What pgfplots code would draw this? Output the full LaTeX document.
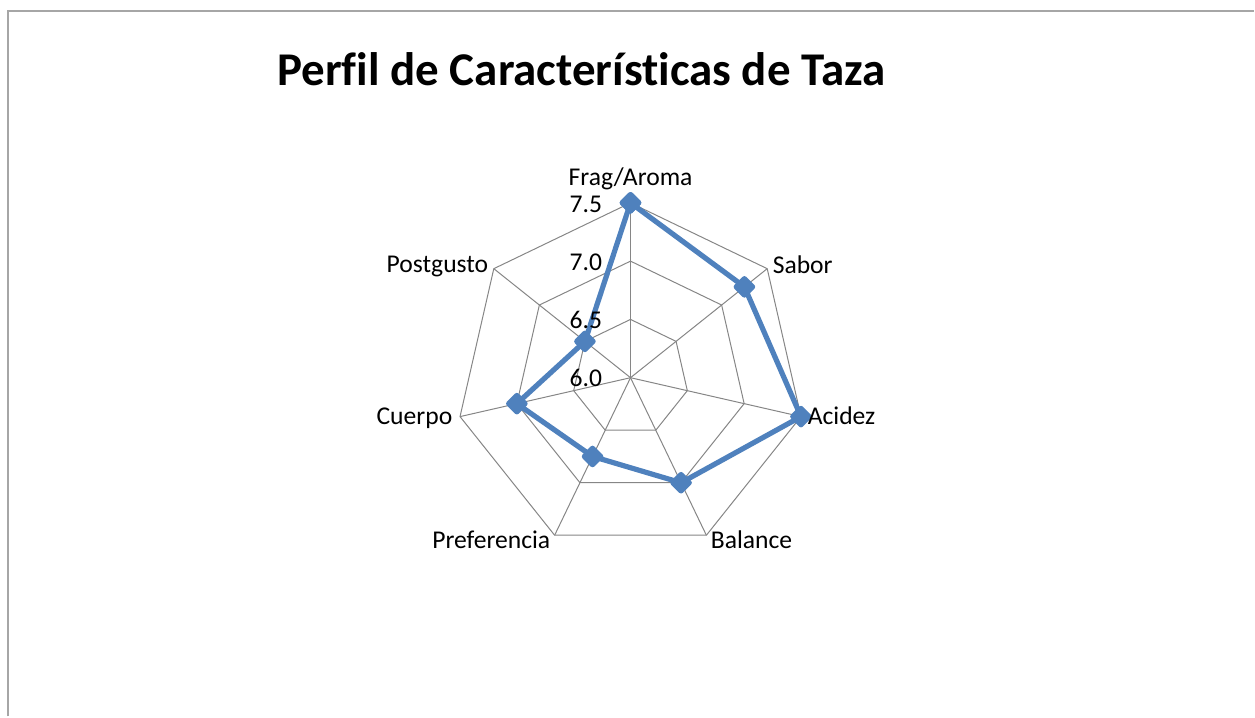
\documentclass[border=0pt]{standalone}
\usepackage{fontspec}
\setmainfont{Carlito}[Ligatures=CommonOff]
\usepackage{pgfplots}
\pgfplotsset{compat=1.18}
\usepgfplotslibrary{polar}
\definecolor{serieblue}{HTML}{4F81BD}
\definecolor{gridgray}{HTML}{868686}
\definecolor{framegray}{HTML}{A6A6A6}

\begin{document}
\begin{tikzpicture}[x=1pt,y=1pt]
% page frame
\path (0,0) rectangle (627.5,358.5);
\draw[framegray, line width=1pt] (4,0) -- (4,353) -- (627.5,353);

\begin{polaraxis}[
    at={(315.5pt,169.5pt)}, anchor=center,
    scale only axis, width=175pt, height=175pt,
    xmin=0, xmax=360, ymin=0, ymax=1.5,
    y filter/.expression={y-6},
    hide axis, clip=false,
]
% heptagon rings
\addplot[gridgray, line width=0.5pt, no marks] coordinates {(90,6.5) (38.571,6.5) (347.143,6.5) (295.714,6.5) (244.286,6.5) (192.857,6.5) (141.429,6.5) (90,6.5)};
\addplot[gridgray, line width=0.5pt, no marks] coordinates {(90,7.0) (38.571,7.0) (347.143,7.0) (295.714,7.0) (244.286,7.0) (192.857,7.0) (141.429,7.0) (90,7.0)};
\addplot[gridgray, line width=0.5pt, no marks] coordinates {(90,7.5) (38.571,7.5) (347.143,7.5) (295.714,7.5) (244.286,7.5) (192.857,7.5) (141.429,7.5) (90,7.5)};
% spokes
\addplot[gridgray, line width=0.5pt, no marks] coordinates {(90,6) (90,7.5)};
\addplot[gridgray, line width=0.5pt, no marks] coordinates {(38.571,6) (38.571,7.5)};
\addplot[gridgray, line width=0.5pt, no marks] coordinates {(347.143,6) (347.143,7.5)};
\addplot[gridgray, line width=0.5pt, no marks] coordinates {(295.714,6) (295.714,7.5)};
\addplot[gridgray, line width=0.5pt, no marks] coordinates {(244.286,6) (244.286,7.5)};
\addplot[gridgray, line width=0.5pt, no marks] coordinates {(192.857,6) (192.857,7.5)};
\addplot[gridgray, line width=0.5pt, no marks] coordinates {(141.429,6) (141.429,7.5)};
% cup profile
\addplot[serieblue, line width=2.6pt, line join=round, mark=square*, mark size=2.9pt,
    mark options={rotate=45, solid, fill=serieblue}] coordinates {
    (90,7.5) (38.571,7.25) (347.143,7.5) (295.714,7.0)
    (244.286,6.75) (192.857,7.0) (141.429,6.5) (90,7.5)
};
\end{polaraxis}

% title and category labels
\node[anchor=base, font=\fontsize{23.5pt}{28pt}\selectfont\bfseries] at (291,315.5) {Perfil de Características de Taza};
\begin{scope}[every node/.style={font=\fontsize{12.8pt}{15pt}\selectfont, inner sep=0pt}]
\node[anchor=base] at (315.5,265.5) {Frag/Aroma};
\node[anchor=base west] at (386.5,221.5) {Sabor};
\node[anchor=base west] at (404,146) {Acidez};
\node[anchor=base west] at (355.5,84) {Balance};
\node[anchor=base east] at (275.5,84) {Preferencia};
\node[anchor=base east] at (226.5,146) {Cuerpo};
\node[anchor=base east] at (244.5,222) {Postgusto};
% radial tick labels
\node[anchor=base east] at (301.5,252) {7.5};
\node[anchor=base east] at (301.5,223) {7.0};
\node[anchor=base east] at (301.5,194) {6.5};
\node[anchor=base east] at (301.5,165) {6.0};
\end{scope}
\end{tikzpicture}
\end{document}
